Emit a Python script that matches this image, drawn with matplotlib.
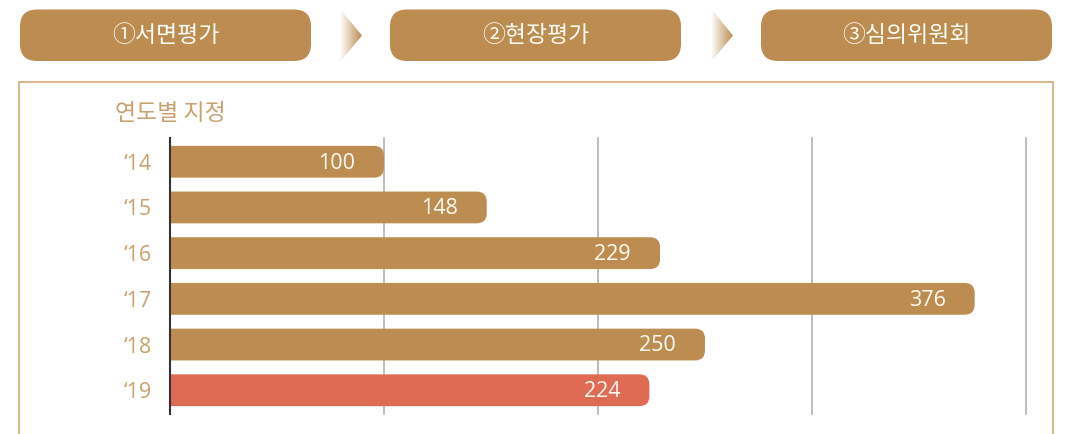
import numpy as np
import matplotlib
matplotlib.use('Agg')
import matplotlib.pyplot as plt
from matplotlib.patches import FancyBboxPatch, Polygon

plt.rcParams['font.family'] = ['Noto Sans CJK KR', 'DejaVu Sans']
NUM_FONT = ['Open Sans', 'Noto Sans', 'Noto Sans CJK KR', 'DejaVu Sans']

# data
years = ['\u201814', '\u201815', '\u201816', '\u201817', '\u201818', '\u201819']
counts = [100, 148, 229, 376, 250, 224]
steps = ['①서면평가', '②현장평가', '③심의위원회']
grid_ticks = [100, 200, 300, 400]
title = '연도별 지정'

BROWN = '#BC8C50'
RED = '#E06B55'
TAN = '#C9A16C'
FRAME = '#D4AA72'

W, H = 1072, 434
fig = plt.figure(figsize=(W / 100, H / 100), dpi=100)

# background layer in pixel coordinates
bg = fig.add_axes([0, 0, 1, 1])
bg.set_xlim(0, W)
bg.set_ylim(H, 0)
bg.axis('off')

# step boxes
box_x = [20, 390, 761]
for bx, label in zip(box_x, steps):
    bg.add_patch(FancyBboxPatch((bx, 9.5), 291, 51.5,
                                boxstyle='round,pad=0,rounding_size=17',
                                fc=BROWN, ec='none'))
    bg.text(bx + 145.5, 36, label, color='#FFFDF8', fontsize=16.5,
            ha='center', va='center')

# gradient arrows between boxes
rgb = matplotlib.colors.to_rgb(BROWN)
grad = np.zeros((2, 64, 4))
grad[..., :3] = rgb
grad[..., 3] = np.linspace(0.0, 1.0, 64)
for ax0 in [340, 711]:
    tri = Polygon([[ax0, 9], [ax0 + 22, 35.5], [ax0, 62]], closed=True,
                  fc='none', ec='none')
    bg.add_patch(tri)
    im = bg.imshow(grad, extent=[ax0, ax0 + 22, 62, 9], aspect='auto',
                   interpolation='bilinear')
    im.set_clip_path(tri)
bg.set_xlim(0, W)
bg.set_ylim(H, 0)

# panel frame
bg.plot([19, 19, 1053, 1053], [H + 5, 82, 82, H + 5], color=FRAME, lw=1.2,
        solid_joinstyle='miter')
bg.text(115, 113, title, color=TAN, fontsize=16.5, ha='left', va='center')

# main bar chart
k = 2.14           # px per unit
row_px = 46
left_px, top_px = 170, 138
xmax = 400
ax = fig.add_axes([left_px / W, (H - top_px - row_px * len(counts)) / H,
                   xmax * k / W, row_px * len(counts) / H])
ax.set_xlim(0, xmax)
ax.set_ylim(len(counts) - 0.48, -0.52)
ax.patch.set_alpha(0)

for t in grid_ticks:
    ax.axvline(t, color='#ABABAB', lw=1.1, zorder=0, clip_on=False)

r = 10 / k
asp = k / row_px
bar_h = 32 / row_px
for i, v in enumerate(counts):
    c = RED if i == len(counts) - 1 else BROWN
    ax.add_patch(FancyBboxPatch((-20, i - bar_h / 2), v + 20, bar_h,
                                boxstyle=f'round,pad=0,rounding_size={r}',
                                mutation_aspect=asp, fc=c, ec='none', zorder=2))
    ax.annotate(str(v), (v, i), xytext=(-21, -1), textcoords='offset points',
                ha='right', va='center', color='#FFFDF8', fontsize=15.5,
                family=NUM_FONT, zorder=3)

ax.set_yticks(range(len(years)))
ax.set_yticklabels(years, color=TAN, fontsize=15.5, family=NUM_FONT,
                   va='center_baseline')
ax.tick_params(axis='y', length=0, pad=13)
ax.set_xticks([])
for s in ['top', 'right', 'bottom']:
    ax.spines[s].set_visible(False)
ax.spines['left'].set_color('#333333')
ax.spines['left'].set_linewidth(1.5)
ax.spines['left'].set_zorder(4)

fig.savefig('out.png', dpi=100)
